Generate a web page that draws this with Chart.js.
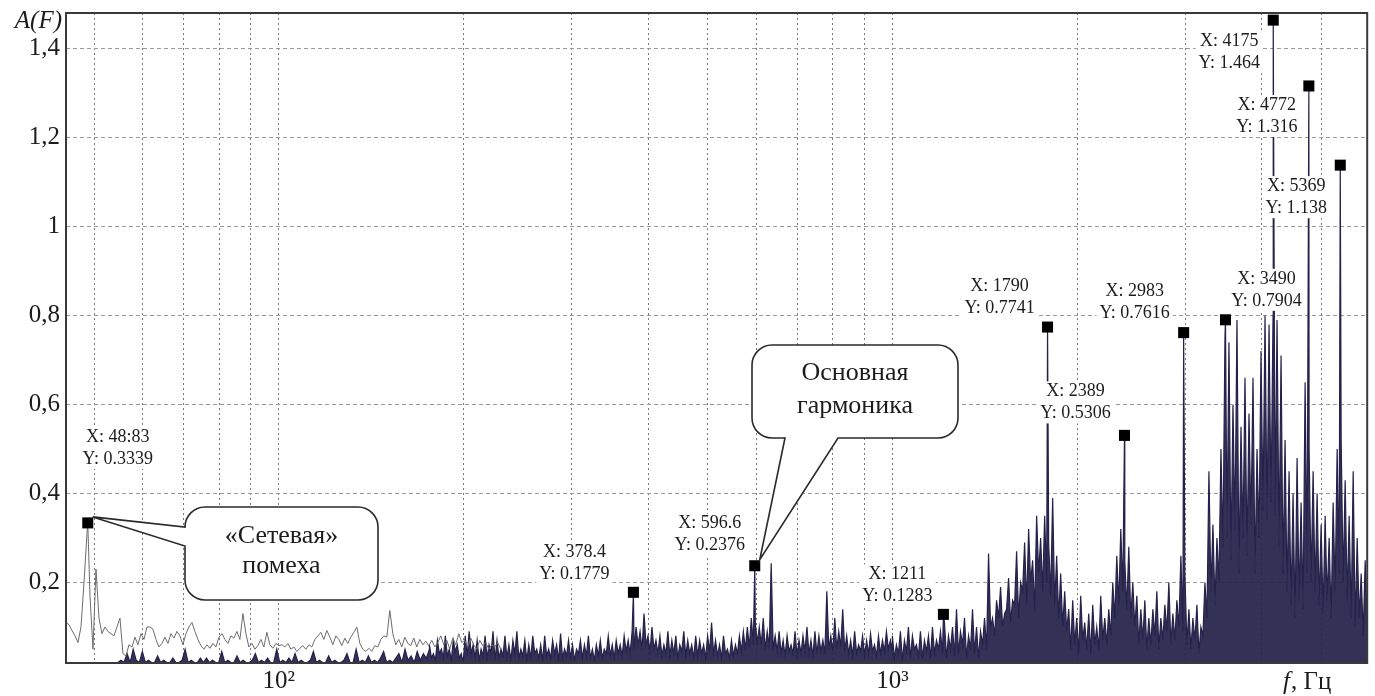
<!DOCTYPE html>
<html>
<head>
<meta charset="utf-8">
<script src="https://cdn.jsdelivr.net/npm/chart.js@4.4.1/dist/chart.umd.min.js"></script>
<style>
  html, body { margin: 0; padding: 0; background: #fff; }
  #wrap { width: 1375px; height: 696px; }
</style>
</head>
<body>
<div id="wrap"><canvas id="spectrum" width="1375" height="696"></canvas></div>
<script>
// Amplitude spectrum A(F), log frequency axis.

// Thin grey trace of the low-frequency part, sampled log-evenly across the band (Hz).
const grayBandHz = [45, 230];
const grayTrace = [
  .11, .105, .092, .08, .065, .10, .20, .31, .17, .05,
  .23, .12, .085, .10, .09, .085, .08, .10, .12, .04,
  .035, .06, .055, .077, .06, .085, .072, .10, .10, .095,
  .072, .055, .063, .077, .063, .085, .075, .09, .08, .06,
  .085, .10, .11, .09, .072, .058, .05, .06, .052, .063,
  .055, .077, .085, .072, .063, .08, .075, .09, .072, .13,
  .085, .055, .063, .05, .058, .072, .055, .088, .06, .052,
  .063, .058, .06, .055, .063, .05, .055, .045, .052, .058,
  .05, .06, .055, .072, .08, .088, .072, .092, .077, .06,
  .08, .072, .058, .075, .063, .077, .088, .10, .063, .05,
  .045, .052, .045, .058, .055, .072, .08, .077, .137, .085,
  .06, .072, .055, .077, .063, .058, .075, .055, .072, .06,
  .068, .058, .07, .055, .065, .08, .06, .07, .05, .075,
  .06, .085, .065, .07, .055, .075, .06, .05, .07, .058,
  .065, .05, .06, .055, .065, .05
];

// Dark spectrum, low band: mostly near the floor with short strokes.
const navyLowHz = [45, 176];
const navyLow = [
  .02, .02, .02, .02, .02, .02, .02, .02, .02, .02,
  .02, .02, .02, .02, .02, .02, .02, .02, .025, .02,
  .04, .02, .05, .025, .02, .045, .02, .025, .02, .02,
  .035, .02, .025, .02, .02, .03, .02, .02, .025, .05,
  .02, .025, .02, .02, .03, .02, .03, .02, .025, .02,
  .02, .045, .02, .025, .02, .02, .035, .02, .025, .02,
  .02, .025, .04, .02, .025, .02, .03, .02, .02, .05,
  .02, .025, .02, .03, .02, .04, .02, .025, .02, .02,
  .025, .045, .02, .025, .02, .02, .035, .02, .025, .02,
  .02, .025, .04, .02, .02, .05, .02, .025, .02, .035,
  .02, .025, .02, .03, .045, .02, .025, .02, .03, .04,
  .02, .05, .025, .035, .02, .045, .025, .04, .03, .05
];

// Dark spectrum, middle band: alternating crests and troughs.
const navyMidHz = [176, 1000];
const midCrest = [
  .06, .04, .07, .05, .08, .05, .07, .06, .04, .08,
  .09, .06, .07, .05, .08, .06, .09, .07, .05, .08,
  .06, .07, .09, .05, .07, .06, .08, .05, .06, .08,
  .05, .07, .06, .085, .05, .07, .06, .05, .07, .06,
  .08, .05, .06, .07, .05, .08, .06, .07, .06, .08,
  .07, .09, .10, .09, .13, .08, .10, .07, .08, .06,
  .09, .07, .08, .06, .09, .07, .06, .08, .07, .06,
  .08, .11, .07, .06, .08, .05, .07, .06, .08, .09,
  .10, .12, .11, .10, .12, .09, .243, .08, .09, .07,
  .08, .06, .09, .07, .08, .10, .07, .09, .08, .07,
  .18, .08, .12, .09, .14, .08, .07, .09, .06, .08,
  .07, .085, .06, .08, .07, .09, .07
];
const midTrough = [
  .03, .025, .04, .03, .035, .025, .045, .03, .02, .035,
  .04, .03, .025, .035, .03, .04, .025, .03, .035, .03,
  .025, .04, .03, .035, .025, .03, .04, .03, .025, .035,
  .03, .04, .025, .03, .035, .03, .025, .04, .03, .035,
  .03, .025, .035, .03, .04, .035, .03, .04, .035, .045,
  .04, .05, .06, .05, .06, .045, .05, .04, .035, .04,
  .035, .04, .03, .045, .035, .04, .03, .035, .04, .03,
  .045, .04, .035, .03, .04, .03, .035, .04, .045, .05,
  .055, .06, .065, .06, .05, .055, .05, .045, .04, .035,
  .045, .04, .035, .04, .045, .04, .035, .04, .045, .04,
  .05, .045, .05, .055, .045, .04, .035, .04, .045, .035,
  .04, .045, .035, .04, .045, .05, .045
];

// Dark spectrum, high band.
const navyHighHz = [1000, 5940];
const highCrest = [
  .08, .06, .09, .07, .10, .08, .06, .09, .07, .08,
  .10, .07, .09, .11, .08, .10, .14, .09, .12, .08,
  .14, .10, .09, .12, .265, .12, .16, .19, .13, .21,
  .16, .27, .20, .29, .32, .25, .35, .30, .35, .29,
  .39, .26, .22, .18, .14, .16, .12, .17, .11, .13,
  .15, .10, .17, .12, .14, .20, .26, .32, .25, .28,
  .20, .17, .14, .16, .12, .14, .18, .12, .15, .20,
  .13, .16, .26, .22, .14, .12, .15, .10, .20, .45,
  .33, .30, .50, .75, .74, .60, .79, .55, .66, .58,
  .66, .50, .72, .80, .78, .80, .79, .71, .52, .45,
  .40, .48, .38, .65, .50, .45, .40, .33, .35, .30,
  .38, .50, .52, .43, .35, .45, .30, .22, .25
];
const highTrough = [
  .03, .04, .025, .045, .03, .05, .035, .03, .045, .03,
  .04, .05, .04, .03, .05, .035, .04, .06, .03, .05,
  .04, .03, .06, .05, .10, .08, .12, .10, .14, .11,
  .15, .12, .18, .15, .20, .14, .22, .18, .20, .17,
  .15, .12, .10, .09, .05, .06, .04, .07, .05, .04,
  .06, .05, .07, .06, .08, .12, .15, .18, .14, .12,
  .10, .06, .07, .05, .06, .08, .05, .07, .09, .06,
  .07, .10, .09, .06, .05, .07, .04, .08, .12, .18,
  .15, .20, .28, .30, .25, .32, .22, .30, .26, .33,
  .22, .30, .36, .34, .38, .35, .28, .22, .18, .15,
  .12, .16, .14, .22, .20, .18, .15, .13, .16, .12,
  .18, .22, .20, .16, .12, .10, .12, .08, .10
];

// Data tips as printed on the plot.
const tipX = ['48:83', '378.4', '596.6', '1211', '1790', '2389', '2983', '3490', '4175', '4772', '5369'];
const tipY = ['0.3339', '0.1779', '0.2376', '0.1283', '0.7741', '0.5306', '0.7616', '0.7904', '1.464', '1.316', '1.138'];

// Axis ticks.
const xGridHz = [50, 60, 70, 80, 90, 100, 200, 300, 400, 500, 600, 700, 800, 900, 1000, 2000, 3000, 4000, 5000];
const xLabelHz = [100, 1000];
const xLabelText = ['10²', '10³'];
const yGrid = [0.2, 0.4, 0.6, 0.8, 1, 1.2, 1.4];

// ---- build the point lists ----
const tipHz = tipX.map(s => parseFloat(s.replace(':', '.')));
const tipAmp = tipY.map(Number);
const tips = tipHz.map((x, i) => ({ x, y: tipAmp[i] }));

function sweep(span, amps) {
  const f0 = span[0], f1 = span[1], n = amps.length;
  return amps.map((a, i) => ({ x: f0 * Math.pow(f1 / f0, i / (n - 1)), y: a }));
}
function alternate(crest, trough) {
  const out = [];
  crest.forEach((c, i) => { out.push(c, trough[i]); });
  return out;
}
const byFreq = (a, b) => a.x - b.x;

const grayPts = sweep(grayBandHz, grayTrace)
  .concat(tips.filter(p => p.x < grayBandHz[1]))
  .sort(byFreq);
const navyPts = [].concat(
  sweep(navyLowHz, navyLow),
  sweep(navyMidHz, alternate(midCrest, midTrough)),
  sweep(navyHighHz, alternate(highCrest, highTrough)),
  tips.filter(p => p.x >= grayBandHz[1])
).sort(byFreq);

// ---- annotation layout ----
const SERIF = '"Liberation Serif", "Times New Roman", serif';
const tipOffset = [[30, -75], [-59, -29], [-45, -31], [-46, -29], [-48, -30], [-49, -33],
                   [-49, -30], [41, -30], [-44, 32], [-42, 30], [-44, 32]];
const callouts = [
  { text: ['«Сетевая»', 'помеха'], box: [185, 507, 378, 600], base: [36, 66],
    wedge: { side: 'left', from: 527, to: 546 }, tip: 0 },
  { text: ['Основная', 'гармоника'], box: [752, 345, 958, 438], base: [35, 68],
    wedge: { side: 'bottom', from: 785, to: 838 }, tip: 2 }
];

function bubblePath(ctx, c, tx, ty) {
  const [x0, y0, x1, y1] = c.box, r = 20, w = c.wedge;
  ctx.beginPath();
  ctx.moveTo(x0 + r, y0);
  ctx.lineTo(x1 - r, y0);
  ctx.arcTo(x1, y0, x1, y0 + r, r);
  ctx.lineTo(x1, y1 - r);
  ctx.arcTo(x1, y1, x1 - r, y1, r);
  if (w.side === 'bottom') { ctx.lineTo(w.to, y1); ctx.lineTo(tx, ty); ctx.lineTo(w.from, y1); }
  ctx.lineTo(x0 + r, y1);
  ctx.arcTo(x0, y1, x0, y1 - r, r);
  if (w.side === 'left') { ctx.lineTo(x0, w.to); ctx.lineTo(tx, ty); ctx.lineTo(x0, w.from); }
  ctx.lineTo(x0, y0 + r);
  ctx.arcTo(x0, y0, x0 + r, y0, r);
  ctx.closePath();
}

const decor = {
  id: 'decor',
  afterDatasetsDraw(chart) {
    const ctx = chart.ctx, xs = chart.scales.x, ys = chart.scales.y;
    ctx.save();
    // data tips
    ctx.font = '18px ' + SERIF;
    ctx.textAlign = 'center';
    ctx.textBaseline = 'middle';
    tips.forEach((p, i) => {
      const px = xs.getPixelForValue(p.x), py = ys.getPixelForValue(p.y);
      const cx = px + tipOffset[i][0], cy = py + tipOffset[i][1];
      const l1 = 'X: ' + tipX[i], l2 = 'Y: ' + tipY[i];
      const w = Math.max(ctx.measureText(l1).width, ctx.measureText(l2).width) + 6;
      ctx.fillStyle = '#ffffff';
      ctx.fillRect(cx - w / 2, cy - 21, w, 42);
      ctx.fillStyle = '#1c1c1c';
      ctx.fillText(l1, cx, cy - 11);
      ctx.fillText(l2, cx, cy + 11);
    });
    // callout bubbles
    callouts.forEach(c => {
      const p = tips[c.tip];
      const tx = xs.getPixelForValue(p.x) + 5, ty = ys.getPixelForValue(p.y) - 6;
      bubblePath(ctx, c, tx, ty);
      ctx.fillStyle = '#ffffff';
      ctx.fill();
      ctx.lineWidth = 1.6;
      ctx.strokeStyle = '#2a2a2a';
      ctx.stroke();
      ctx.fillStyle = '#1c1c1c';
      ctx.font = '26px ' + SERIF;
      ctx.textAlign = 'center';
      ctx.textBaseline = 'alphabetic';
      const mid = (c.box[0] + c.box[2]) / 2;
      c.text.forEach((t, k) => ctx.fillText(t, mid, c.box[1] + c.base[k]));
    });
    ctx.restore();
  },
  afterDraw(chart) {
    const ctx = chart.ctx, a = chart.chartArea;
    ctx.save();
    ctx.lineWidth = 2;
    ctx.strokeStyle = '#3a3a3a';
    ctx.strokeRect(a.left, a.top, a.right - a.left, a.bottom - a.top);
    ctx.fillStyle = '#1c1c1c';
    ctx.font = 'italic 25px ' + SERIF;
    ctx.textAlign = 'right';
    ctx.textBaseline = 'middle';
    ctx.fillText('A(F)', 62, 21);
    ctx.textAlign = 'left';
    ctx.textBaseline = 'alphabetic';
    ctx.fillText('f', 1283, 689);
    const fw = ctx.measureText('f').width;
    ctx.font = '25px ' + SERIF;
    ctx.fillText(', Гц', 1283 + fw + 1, 689);
    ctx.restore();
  }
};

new Chart(document.getElementById('spectrum'), {
  type: 'line',
  data: {
    datasets: [
      { label: 'tips', data: tips, showLine: false, pointStyle: 'rect', pointRadius: 7.8,
        pointBackgroundColor: '#000', pointBorderWidth: 0, clip: false, order: 0 },
      { label: 'grey', data: grayPts, borderColor: '#6c6c6c', borderWidth: 1,
        pointRadius: 0, fill: false, order: 1 },
      { label: 'navy', data: navyPts, borderColor: '#25214a', borderWidth: 1.2,
        backgroundColor: 'rgba(37,33,74,0.93)', fill: 'start', pointRadius: 0, order: 2 }
    ]
  },
  options: {
    responsive: false,
    animation: false,
    devicePixelRatio: 1,
    layout: { padding: { top: 13, right: 7, left: 0, bottom: 0 } },
    plugins: { legend: { display: false }, tooltip: { enabled: false } },
    elements: { line: { tension: 0 } },
    scales: {
      x: {
        type: 'logarithmic', min: 45, max: 5940,
        afterBuildTicks: s => { s.ticks = xGridHz.map(v => ({ value: v })); },
        afterFit: s => { s.height = 33; s.paddingLeft = 0; s.paddingRight = 0; },
        ticks: {
          autoSkip: false, maxRotation: 0, minRotation: 0, padding: 3, color: '#1c1c1c',
          font: { family: SERIF, size: 25 },
          callback: v => { const i = xLabelHz.indexOf(v); return i < 0 ? '' : xLabelText[i]; }
        },
        grid: { color: '#7a7a7a', lineWidth: 1, drawTicks: false },
        border: { display: false, dash: [2, 3] }
      },
      y: {
        type: 'linear', min: 0.019, max: 1.48,
        afterBuildTicks: s => { s.ticks = yGrid.map(v => ({ value: v })); },
        afterFit: s => { s.width = 66; s.paddingTop = 0; s.paddingBottom = 0; },
        ticks: {
          padding: 6, color: '#1c1c1c', font: { family: SERIF, size: 25 },
          callback: v => (v === 1 ? '1' : v.toFixed(1).replace('.', ','))
        },
        grid: { color: '#9a9a9a', lineWidth: 1, drawTicks: false },
        border: { display: false, dash: [4, 3] }
      }
    }
  },
  plugins: [decor]
});
</script>
</body>
</html>
